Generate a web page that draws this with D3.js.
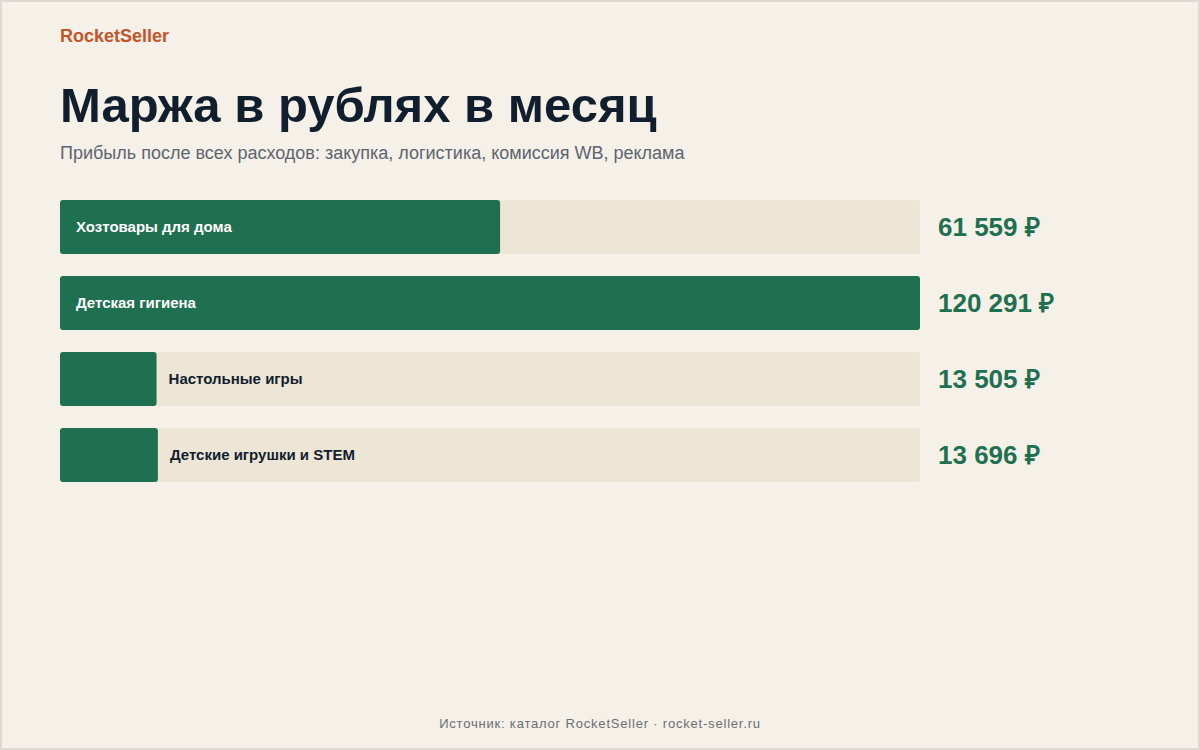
<!DOCTYPE html>
<html><head><meta charset="utf-8">
<script src="https://cdn.jsdelivr.net/npm/d3@7"></script>
<style>
body{margin:0;background:#f5f0e8;font-family:"Liberation Sans",Arial,sans-serif}
svg{display:block}
</style></head>
<body><svg id="chart" width="1200" height="750"></svg>
<script>
// data
const categories = ["Хозтовары для дома", "Детская гигиена", "Настольные игры", "Детские игрушки и STEM"];
const margins = [61559, 120291, 13505, 13696];

const svg = d3.select("#chart");
svg.append("rect").attr("x", 1).attr("y", 1).attr("width", 1198).attr("height", 748)
    .attr("fill", "#f5f0e8").attr("stroke", "#dedad3").attr("stroke-width", 2);

svg.append("text").attr("x", 60).attr("y", 42).text("RocketSeller")
    .attr("fill", "#c4552b").attr("font-size", 18).attr("font-weight", "bold");
svg.append("text").attr("x", 60).attr("y", 122).text("Маржа в рублях в месяц")
    .attr("fill", "#111e2e").attr("font-size", 49).attr("font-weight", "bold");
svg.append("text").attr("x", 60).attr("y", 159).text("Прибыль после всех расходов: закупка, логистика, комиссия WB, реклама")
    .attr("fill", "#5d6470").attr("font-size", 18);

const x = d3.scaleLinear().domain([0, d3.max(margins)]).range([0, 860]);
const y = d3.scaleBand().domain(categories).range([200, 504]).paddingInner(22 / 76).paddingOuter(0);
// range: 4 bands of 54 with 22 gap -> total 4*54+3*22 = 282
y.range([200, 482]);

const rows = svg.append("g").selectAll("g").data(categories).join("g")
    .attr("transform", d => `translate(60,${y(d)})`);

rows.append("rect").attr("width", 860).attr("height", y.bandwidth())
    .attr("rx", 3).attr("fill", "#ede5d5");
rows.append("rect").attr("width", (d, i) => x(margins[i])).attr("height", y.bandwidth())
    .attr("rx", 3).attr("fill", "#1f7050");

rows.append("text")
    .attr("x", (d, i) => x(margins[i]) > 250 ? 16 : x(margins[i]) + 12)
    .attr("y", y.bandwidth() / 2).attr("dy", "0.35em")
    .attr("fill", (d, i) => x(margins[i]) > 250 ? "#ffffff" : "#111e2e")
    .attr("font-size", 15).attr("font-weight", "bold").text(d => d);

rows.append("text").attr("x", 878).attr("y", y.bandwidth() / 2).attr("dy", "0.35em")
    .attr("fill", "#1f7050").attr("font-size", 26).attr("font-weight", "bold")
    .text((d, i) => d3.format(",")(margins[i]).replace(/,/g, " ") + " ₽");

svg.append("text").attr("x", 600).attr("y", 728).attr("text-anchor", "middle")
    .attr("fill", "#6b6f75").attr("font-size", 13).attr("letter-spacing", "0.8")
    .text("Источник: каталог RocketSeller · rocket-seller.ru");
</script></body></html>
